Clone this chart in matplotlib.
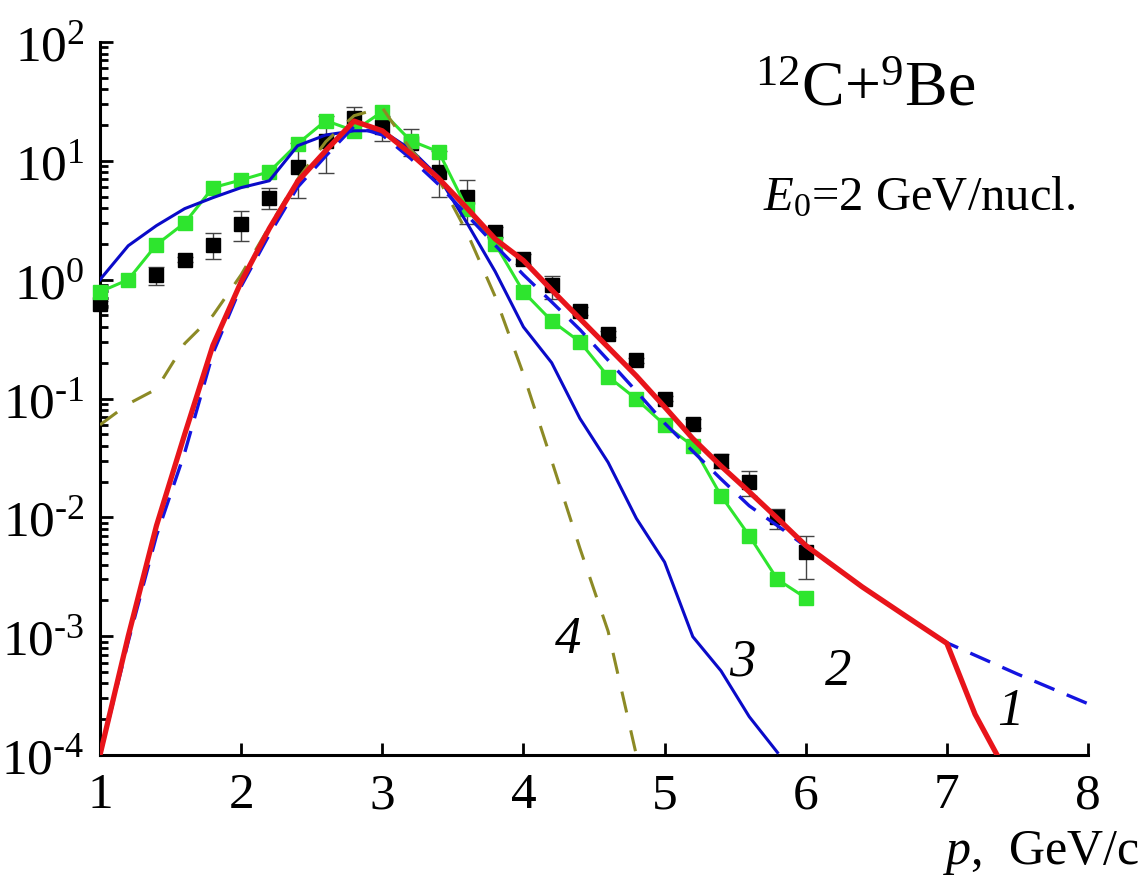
import matplotlib
matplotlib.use("Agg")
import matplotlib.pyplot as plt
from matplotlib.ticker import FixedLocator, FixedFormatter, LogLocator, NullFormatter

plt.rcParams['font.family'] = ['Liberation Serif', 'DejaVu Serif']
plt.rcParams['mathtext.fontset'] = 'custom'
plt.rcParams['mathtext.rm'] = 'Liberation Serif'
plt.rcParams['mathtext.it'] = 'Liberation Serif:italic'

# curve 1 (red, thick)
p_red = [1.0, 1.2, 1.4, 1.6, 1.8, 2.0, 2.2, 2.4, 2.6, 2.8, 3.0, 3.2, 3.4, 3.6, 3.8,
         4.0, 4.2, 4.4, 4.6, 4.8, 5.0, 5.2, 5.4, 5.6, 5.8, 6.0, 6.4, 6.7, 7.0, 7.2, 7.4]
y_red = [1.0e-4, 0.001, 0.0085, 0.05, 0.28, 0.96, 2.7, 6.7, 12.2, 21.6, 17.9, 11.5, 7.1,
         4.0, 2.2, 1.45, 0.82, 0.47, 0.27, 0.155, 0.085, 0.046, 0.027, 0.0164, 0.0098,
         0.0058, 0.0026, 0.0015, 0.00087, 0.00022, 0.00008]

# blue dashed
p_bdash = [1.0, 1.2, 1.4, 1.6, 1.8, 2.0, 2.2, 2.4, 2.6, 2.8, 3.0, 3.2, 3.4, 3.6, 3.8,
           4.0, 4.2, 4.4, 4.6, 4.8, 5.0, 5.2, 5.4, 5.6, 5.8, 6.0, 6.4, 6.7, 7.0, 7.5, 8.0]
y_bdash = [1.0e-4, 0.0009, 0.007, 0.035, 0.24, 0.88, 2.4, 6.0, 11.0, 19.5, 16.5, 10.5,
           6.3, 3.5, 1.95, 1.1, 0.65, 0.38, 0.21, 0.115, 0.062, 0.036, 0.021, 0.0125,
           0.0085, 0.0057, 0.0026, 0.0015, 0.00088, 0.00048, 0.00027]

# curve 3 (blue solid)
p_blue = [1.0, 1.2, 1.4, 1.6, 1.8, 2.0, 2.2, 2.4, 2.6, 2.8, 3.0, 3.2, 3.4, 3.6, 3.8,
          4.0, 4.2, 4.4, 4.6, 4.8, 5.0, 5.2, 5.4, 5.6, 5.8]
y_blue = [1.0, 1.93, 2.85, 3.96, 4.9, 5.95, 6.8, 13.4, 16.5, 17.9, 17.9, 12.5, 7.3, 3.0,
          1.17, 0.40, 0.20, 0.068, 0.029, 0.0098, 0.0042, 0.00099, 0.00051, 0.00021, 0.000105]

# curve 4 (olive dashed)
p_olive = [1.0, 1.2, 1.4, 1.6, 1.8, 2.0, 2.2, 2.4, 2.6, 2.8, 3.0, 3.2, 3.4, 3.6, 3.8,
           4.0, 4.2, 4.4, 4.6, 4.8]
y_olive = [0.06, 0.09, 0.12, 0.29, 0.5, 1.1, 2.8, 7.0, 14.5, 24, 28, 12.5, 7.0, 2.5,
           0.72, 0.16, 0.03, 0.0055, 0.0011, 0.0001]

# curve 2 (green squares)
p_green = [1.0, 1.2, 1.4, 1.6, 1.8, 2.0, 2.2, 2.4, 2.6, 2.8, 3.0, 3.2, 3.4, 3.6, 3.8,
           4.0, 4.2, 4.4, 4.6, 4.8, 5.0, 5.2, 5.4, 5.6, 5.8, 6.0]
y_green = [0.79, 1.0, 1.97, 3.0, 5.95, 6.9, 8.1, 13.9, 21.8, 17.9, 25.9, 14.8, 11.9,
           3.96, 2.0, 0.79, 0.45, 0.30, 0.153, 0.099, 0.060, 0.040, 0.0152, 0.0070,
           0.0030, 0.0021]

# experimental points
p_data = [1.0, 1.4, 1.6, 1.8, 2.0, 2.2, 2.4, 2.6, 2.8, 3.0, 3.2, 3.4, 3.6, 3.8, 4.0,
          4.2, 4.4, 4.6, 4.8, 5.0, 5.2, 5.4, 5.6, 5.8, 6.0]
y_data = [0.62, 1.1, 1.47, 1.97, 2.96, 4.9, 8.8, 14.8, 23, 19.4, 14.2, 8.1, 5.0, 2.54,
          1.5, 0.91, 0.54, 0.35, 0.21, 0.10, 0.061, 0.030, 0.020, 0.010, 0.0051]
y_lo = [0.58, 0.91, 1.4, 1.5, 2.13, 3.96, 4.9, 7.96, 18, 14.8, 10.9, 5.0, 2.96, 2.3,
        1.35, 0.69, 0.5, 0.33, 0.2, 0.095, 0.056, 0.026, 0.0152, 0.0080, 0.0030]
y_hi = [0.66, 1.29, 1.55, 2.49, 3.8, 5.95, 14, 24, 28.6, 24, 18.7, 12, 6.9, 2.8,
        1.65, 1.08, 0.59, 0.37, 0.22, 0.105, 0.067, 0.034, 0.0246, 0.0118, 0.0070]

decades = [-4, -3, -2, -1, 0, 1, 2]

W, H = 1143, 878
fig = plt.figure(figsize=(W / 100, H / 100), dpi=100)
ax = fig.add_axes([100 / W, 1 - 756 / H, 988 / W, 713 / H])

err = [[y - l for y, l in zip(y_data, y_lo)], [h - y for y, h in zip(y_data, y_hi)]]
ax.errorbar(p_data, y_data, yerr=err, fmt='none', ecolor='#444444', elinewidth=1.0,
            capsize=5.5, capthick=1.0, zorder=1)
ax.plot(p_data, y_data, ls='none', marker='s', ms=9.5, color='black', zorder=2, clip_on=False)
ax.plot(p_green, y_green, color='#2ee52e', lw=2.2, marker='s', ms=9.5, zorder=3, clip_on=False)
ax.plot(p_blue, y_blue, color='#0a0ac8', lw=2.2, zorder=4)
ax.plot(p_olive, y_olive, color='#8c8a25', lw=2.2, dashes=(7, 6), zorder=5)
ax.plot(p_bdash, y_bdash, color='#1414e0', lw=2.4, dashes=(6.5, 4), zorder=6)
ax.plot(p_red, y_red, color='#e8141a', lw=3.8, zorder=7)

ax.set_yscale('log')
ax.set_xlim(1, 8)
ax.set_ylim(1e-4, 1e2)

for s in ['top', 'right']:
    ax.spines[s].set_visible(False)
for s in ['left', 'bottom']:
    ax.spines[s].set_linewidth(2.2)

ax.set_xticks([1, 2, 3, 4, 5, 6, 7, 8])
ax.set_xticklabels(['1', '2', '3', '4', '5', '6', '7', '8'])
ax.yaxis.set_major_locator(FixedLocator([10.0 ** e for e in decades]))
ylabels = [r'$\mathregular{10^{%s}}$' % (str(e).replace('-', '\u2010')) for e in decades]
ax.yaxis.set_major_formatter(FixedFormatter(ylabels))
ax.yaxis.set_minor_locator(LogLocator(base=10, subs=range(2, 10), numticks=20))
ax.yaxis.set_minor_formatter(NullFormatter())
ax.tick_params(axis='both', which='major', direction='in', length=9, width=2.0, color='black')
ax.tick_params(axis='y', which='minor', direction='in', length=6, width=2.0)
ax.tick_params(axis='x', which='major', labelsize=37, pad=12)
ax.tick_params(axis='y', which='major', labelsize=37, pad=11)

fig.text(755 / W, 1 - 105 / H, r'${}^{12}$C+${}^{9}$Be', fontsize=46, ha='left', va='baseline')
fig.text(763 / W, 1 - 210 / H, r'$\mathit{E}_{\mathit{0}}$=2 GeV/nucl.', fontsize=35,
         ha='left', va='baseline')
fig.text(943 / W, 1 - 864 / H, r'$\mathit{p}$,  GeV/c', fontsize=36, ha='left', va='baseline')

for txt, x, y in [('4', 568, 640), ('3', 742, 662), ('2', 838, 672), ('1', 1010, 712)]:
    fig.text(x / W, 1 - y / H, txt, fontsize=38, style='italic', ha='center', va='center')

fig.savefig('out.png', dpi=100)
